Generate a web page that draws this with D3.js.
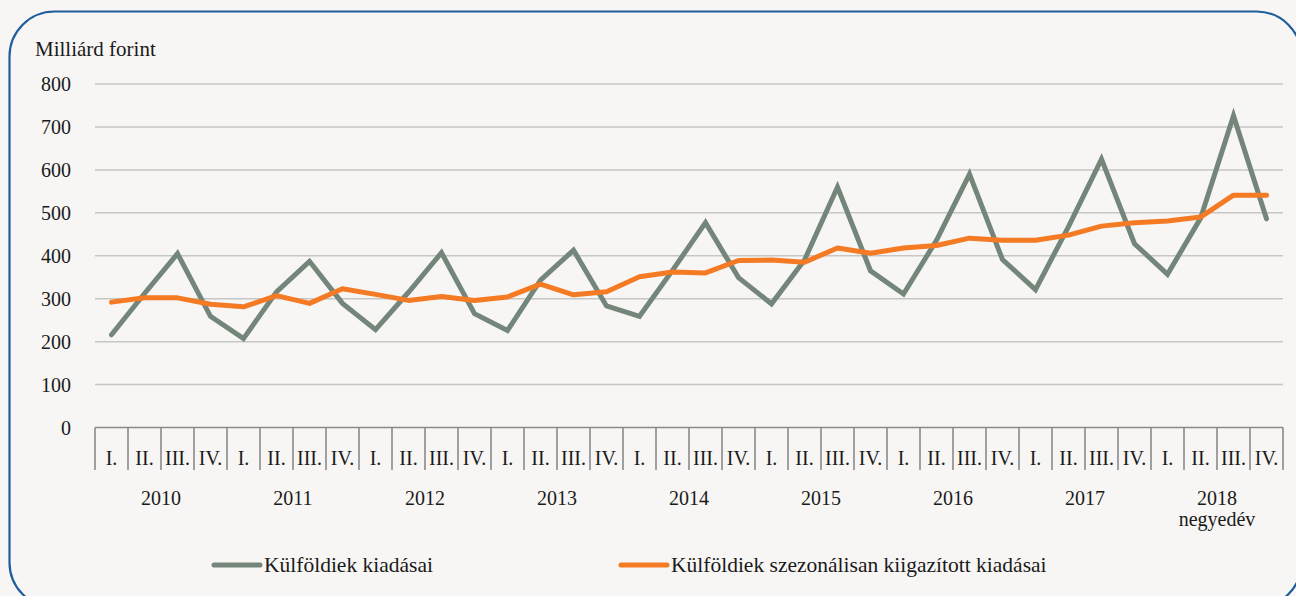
<!DOCTYPE html>
<html>
<head>
<meta charset="utf-8">
<script src="https://cdn.jsdelivr.net/npm/d3@7"></script>
<style>
  html, body { margin: 0; padding: 0; background: #fff; }
  svg { display: block; }
</style>
</head>
<body>
<svg id="chart" width="1296" height="596"></svg>
<script>
// data
var years = ["2010", "2011", "2012", "2013", "2014", "2015", "2016", "2017", "2018"];
var quarters = ["I.", "II.", "III.", "IV."];
var yTicks = [0, 100, 200, 300, 400, 500, 600, 700, 800];

// Külföldiek kiadásai
var spending = [
  216, 312, 405, 259,
  207, 316, 387, 289,
  228, 315, 407, 265,
  226, 343, 413, 283,
  259, 366, 477, 349,
  288, 390, 560, 365,
  311, 436, 590, 391,
  321, 468, 625, 428,
  357, 487, 726, 486
];

// Külföldiek szezonálisan kiigazított kiadásai
var adjusted = [
  292, 302, 302, 287,
  281, 307, 289, 323,
  310, 296, 305, 296,
  304, 334, 309, 316,
  351, 362, 360, 389,
  390, 385, 418, 406,
  418, 424, 441, 436,
  436, 448, 469, 477,
  481, 490, 541, 541
];

var svg = d3.select("#chart")
  .attr("font-family", "'Liberation Serif', 'DejaVu Serif', serif")
  .attr("fill", "#1a1a1a");

// background + rounded frame
svg.append("rect")
  .attr("width", 1296).attr("height", 596)
  .attr("fill", "#f7f6f4");
svg.append("rect")
  .attr("x", 9.5).attr("y", 11.5)
  .attr("width", 1292).attr("height", 596)
  .attr("rx", 45).attr("ry", 45)
  .attr("fill", "none")
  .attr("stroke", "#1f5e9c")
  .attr("stroke-width", 2.2);

var plotLeft = 95, plotRight = 1283, plotTop = 84, plotBottom = 427.5;

var keys = [];
years.forEach(function(yr) {
  quarters.forEach(function(q) { keys.push(yr + "-" + q); });
});

var x = d3.scaleBand().domain(keys).range([plotLeft, plotRight]);
var y = d3.scaleLinear().domain([0, 800]).range([plotBottom, plotTop]);

// grid lines
svg.append("g")
  .selectAll("line")
  .data(yTicks.filter(function(d) { return d > 0; }))
  .enter().append("line")
  .attr("x1", plotLeft).attr("x2", plotRight)
  .attr("y1", function(d) { return y(d); })
  .attr("y2", function(d) { return y(d); })
  .attr("stroke", "#c6c6c4")
  .attr("stroke-width", 1.5);

// y labels
svg.append("g")
  .selectAll("text")
  .data(yTicks)
  .enter().append("text")
  .attr("x", 71)
  .attr("y", function(d) { return y(d) + 7; })
  .attr("text-anchor", "end")
  .attr("font-size", 20)
  .text(function(d) { return d; });

svg.append("text")
  .attr("x", 35).attr("y", 56)
  .attr("font-size", 21)
  .text("Milliárd forint");

// category axis
var axisG = svg.append("g");
axisG.append("line")
  .attr("x1", plotLeft).attr("x2", plotRight)
  .attr("y1", plotBottom).attr("y2", plotBottom)
  .attr("stroke", "#8a8a8a")
  .attr("stroke-width", 1.6);

var dividers = keys.map(function(k) { return x(k); }).concat([plotRight]);
axisG.selectAll("line.div")
  .data(dividers)
  .enter().append("line")
  .attr("class", "div")
  .attr("x1", function(d) { return d; })
  .attr("x2", function(d) { return d; })
  .attr("y1", plotBottom).attr("y2", 470)
  .attr("stroke", "#8a8a8a")
  .attr("stroke-width", 1.6);

axisG.selectAll("text.q")
  .data(keys)
  .enter().append("text")
  .attr("class", "q")
  .attr("x", function(k) { return x(k) + x.bandwidth() / 2; })
  .attr("y", 465)
  .attr("text-anchor", "middle")
  .attr("font-size", 20)
  .text(function(k) { return k.split("-")[1]; });

axisG.selectAll("text.yr")
  .data(years)
  .enter().append("text")
  .attr("class", "yr")
  .attr("x", function(yr) { return x(yr + "-I.") + 2 * x.bandwidth(); })
  .attr("y", 505)
  .attr("text-anchor", "middle")
  .attr("font-size", 20)
  .text(function(yr) { return yr; });

svg.append("text")
  .attr("x", x("2018-I.") + 2 * x.bandwidth())
  .attr("y", 526)
  .attr("text-anchor", "middle")
  .attr("font-size", 20)
  .text("negyedév");

// lines
var line = d3.line()
  .x(function(d, i) { return x(keys[i]) + x.bandwidth() / 2; })
  .y(function(d) { return y(d); });

svg.append("path")
  .datum(spending)
  .attr("d", line)
  .attr("fill", "none")
  .attr("stroke", "#738679")
  .attr("stroke-width", 5)
  .attr("stroke-linejoin", "miter")
  .attr("stroke-linecap", "round");

svg.append("path")
  .datum(adjusted)
  .attr("d", line)
  .attr("fill", "none")
  .attr("stroke", "#f47a24")
  .attr("stroke-width", 5)
  .attr("stroke-linejoin", "round")
  .attr("stroke-linecap", "round");

// legend
var legend = [
  { name: "Külföldiek kiadásai", color: "#738679", x: 214 },
  { name: "Külföldiek szezonálisan kiigazított kiadásai", color: "#f47a24", x: 621 }
];
var lg = svg.append("g").selectAll("g")
  .data(legend)
  .enter().append("g");
lg.append("line")
  .attr("x1", function(d) { return d.x; })
  .attr("x2", function(d) { return d.x + 46; })
  .attr("y1", 565).attr("y2", 565)
  .attr("stroke", function(d) { return d.color; })
  .attr("stroke-width", 5)
  .attr("stroke-linecap", "round");
lg.append("text")
  .attr("x", function(d) { return d.x + 50; })
  .attr("y", 572)
  .attr("font-size", 21.5)
  .text(function(d) { return d.name; });
</script>
</body>
</html>
